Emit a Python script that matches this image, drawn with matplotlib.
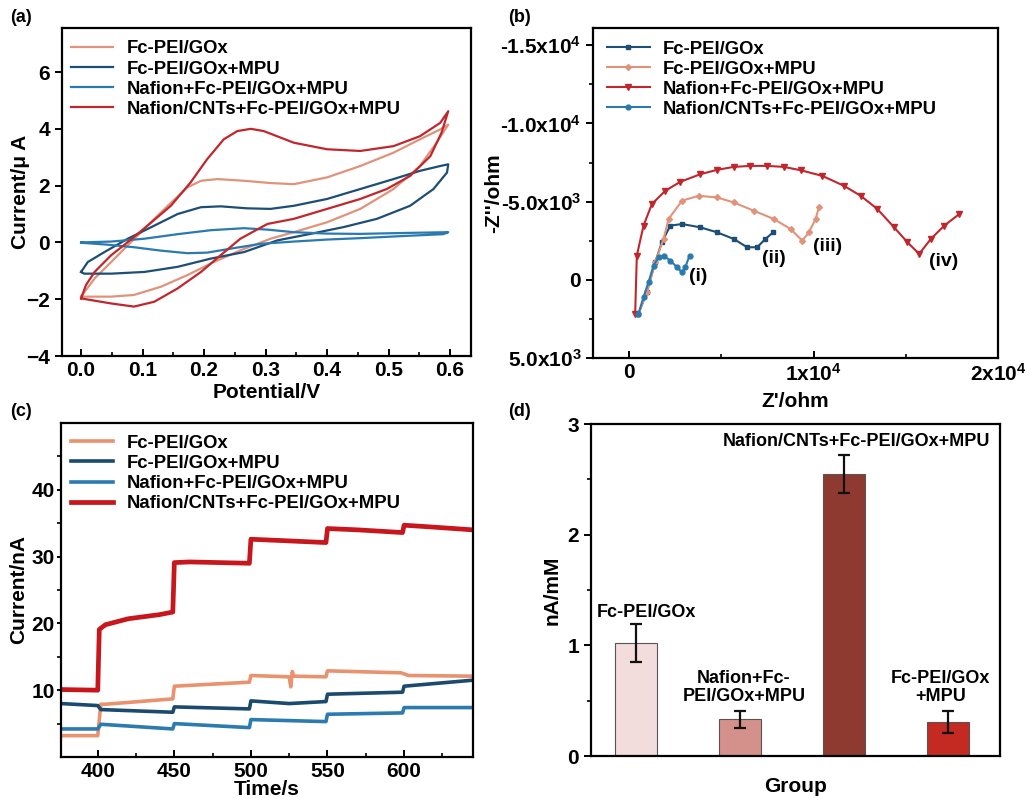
import matplotlib
matplotlib.use("Agg")
import matplotlib.pyplot as plt
from matplotlib.ticker import MultipleLocator, FixedLocator

plt.rcParams['font.family'] = ['Liberation Sans', 'DejaVu Sans']
plt.rcParams['font.weight'] = 'bold'
plt.rcParams['axes.labelweight'] = 'bold'
plt.rcParams['mathtext.default'] = 'regular'

# ---------------- colours ----------------
C_PEACH = '#e0937a'
C_DBLUE = '#1d4e75'
C_LBLUE = '#2a7ab0'
C_RED = '#c0272d'

# ---------------- (a) cyclic voltammetry ----------------
cv_labels = ['Fc-PEI/GOx', 'Fc-PEI/GOx+MPU', 'Nafion+Fc-PEI/GOx+MPU', 'Nafion/CNTs+Fc-PEI/GOx+MPU']
cv1_E = [0, 0.022, 0.049, 0.076, 0.108, 0.141, 0.173, 0.195, 0.222, 0.265, 0.308, 0.346, 0.400, 0.454, 0.508, 0.551, 0.584, 0.597,
         0.578, 0.551, 0.508, 0.454, 0.400, 0.346, 0.308, 0.259, 0.216, 0.173, 0.130, 0.086, 0.049, 0]
cv1_I = [-1.91, -1.27, -0.69, -0.10, 0.59, 1.29, 1.94, 2.17, 2.23, 2.17, 2.09, 2.05, 2.29, 2.69, 3.16, 3.63, 3.98, 4.15,
         3.51, 2.69, 1.88, 1.18, 0.71, 0.36, 0.13, -0.28, -0.69, -1.15, -1.56, -1.85, -1.91, -1.91]
cv2_E = [0, 0.011, 0.038, 0.076, 0.119, 0.157, 0.195, 0.227, 0.270, 0.308, 0.346, 0.400, 0.454, 0.508, 0.551, 0.584, 0.597,
         0.595, 0.573, 0.535, 0.481, 0.427, 0.373, 0.319, 0.265, 0.211, 0.157, 0.103, 0.049, 0.005, 0]
cv2_I = [-1.04, -0.69, -0.34, 0.13, 0.59, 1.00, 1.24, 1.27, 1.20, 1.18, 1.29, 1.53, 1.88, 2.23, 2.52, 2.69, 2.75,
         2.46, 1.88, 1.29, 0.83, 0.54, 0.30, 0.07, -0.34, -0.57, -0.86, -1.04, -1.10, -1.10, -1.04]
cv3_E = [0, 0.049, 0.103, 0.157, 0.211, 0.265, 0.303, 0.346, 0.400, 0.454, 0.519, 0.597,
         0.589, 0.519, 0.454, 0.400, 0.346, 0.292, 0.249, 0.205, 0.173, 0.130, 0.086, 0.043, 0.005, 0]
cv3_I = [0.0, 0.03, 0.13, 0.29, 0.43, 0.50, 0.45, 0.36, 0.31, 0.30, 0.33, 0.36,
         0.29, 0.22, 0.15, 0.10, 0.03, -0.05, -0.20, -0.36, -0.38, -0.29, -0.17, -0.08, -0.02, 0.0]
cv4_E = [0, 0.008, 0.022, 0.049, 0.076, 0.108, 0.146, 0.178, 0.205, 0.232, 0.254, 0.276, 0.297, 0.346, 0.400, 0.454, 0.508,
         0.551, 0.584, 0.597, 0.586, 0.568, 0.535, 0.497, 0.454, 0.400, 0.346, 0.303, 0.259, 0.227, 0.195, 0.157, 0.119,
         0.086, 0.049, 0.016, 0]
cv4_I = [-1.97, -1.50, -1.04, -0.45, 0.01, 0.59, 1.29, 2.11, 2.93, 3.63, 3.92, 4.00, 3.92, 3.51, 3.28, 3.22, 3.39,
         3.74, 4.21, 4.62, 3.86, 3.04, 2.34, 1.88, 1.53, 1.18, 0.83, 0.65, 0.13, -0.45, -1.04, -1.62, -2.09,
         -2.26, -2.15, -2.03, -1.97]

# ---------------- (b) Nyquist ----------------
eis_labels = ['Fc-PEI/GOx', 'Fc-PEI/GOx+MPU', 'Nafion+Fc-PEI/GOx+MPU', 'Nafion/CNTs+Fc-PEI/GOx+MPU']
z1_re = [507, 960, 1413, 1775, 2228, 2862, 3859, 4765, 5670, 6395, 6938, 7392, 7808]
z1_im = [2166, 786, -1125, -2399, -3461, -3567, -3355, -3036, -2612, -2081, -2081, -2612, -3036]
z2_re = [507, 960, 1413, 1866, 2138, 2862, 3768, 4765, 5670, 6757, 7845, 8750, 9385, 9747, 10109, 10290]
z2_im = [2166, 786, -1125, -2612, -3886, -5054, -5372, -5266, -4947, -4417, -3886, -3249, -2505, -3036, -3886, -4629]
z3_re = [326, 417, 779, 1232, 1957, 2772, 3859, 4765, 5670, 6576, 7482, 8388, 9294, 10471, 11648, 12555, 13461,
         14366, 15091, 15725, 16359, 17084, 17899]
z3_im = [2166, -1550, -3461, -4841, -5690, -6263, -6752, -7028, -7219, -7283, -7283, -7219, -7007, -6646, -6009,
         -5372, -4523, -3355, -2399, -1656, -2612, -3461, -4204]
z4_re = [507, 779, 1051, 1322, 1594, 1866, 2228, 2591, 2862, 3044, 3279]
z4_im = [2166, 1104, 148, -913, -1444, -1550, -1231, -807, -489, -807, -1550]
eis_tags = ['(i)', '(ii)', '(iii)', '(iv)']
tag_re = [3750, 7826, 10761, 17066]
tag_im = [-191, -1338, -2102, -1147]

# ---------------- (c) amperometric response ----------------
amp_labels = ['Fc-PEI/GOx', 'Fc-PEI/GOx+MPU', 'Nafion+Fc-PEI/GOx+MPU', 'Nafion/CNTs+Fc-PEI/GOx+MPU']
t1 = [376, 400, 402, 405, 449, 450, 499, 500, 525, 526, 527, 528, 549, 550, 598, 603, 645]
i1 = [3.2, 3.2, 7.9, 7.9, 8.7, 10.6, 11.2, 12.2, 12.0, 10.5, 12.8, 12.1, 12.0, 12.9, 12.6, 12.2, 12.1]
t2 = [376, 400, 402, 449, 450, 499, 500, 525, 549, 550, 599, 600, 645]
i2 = [8.0, 7.7, 7.1, 6.7, 7.5, 7.2, 8.4, 8.0, 8.3, 9.4, 9.7, 10.6, 11.5]
t3 = [376, 400, 402, 449, 450, 499, 500, 549, 550, 599, 600, 645]
i3 = [4.2, 4.2, 4.9, 4.2, 5.0, 4.4, 5.6, 5.3, 6.4, 6.6, 7.4, 7.4]
t4 = [376, 400, 401, 405, 420, 440, 449, 450, 460, 480, 499, 500, 520, 549, 550, 570, 599, 600, 620, 645]
i4 = [10.1, 10.0, 19.1, 19.8, 20.7, 21.3, 21.7, 29.1, 29.2, 29.1, 29.0, 32.6, 32.4, 32.1, 34.2, 34.0, 33.6, 34.7, 34.4, 34.0]

# ---------------- (d) sensitivity bars ----------------
groups = ['Fc-PEI/GOx', 'Nafion+Fc-\nPEI/GOx+MPU', 'Nafion/CNTs+Fc-PEI/GOx+MPU', 'Fc-PEI/GOx\n+MPU']
sens = [1.02, 0.33, 2.55, 0.31]
sens_err = [0.17, 0.08, 0.17, 0.10]
bar_colors = ['#f3dcdc', '#d4918b', '#8e3a31', '#c42a22']

W, H = 1025, 798
fig = plt.figure(figsize=(W / 100, H / 100), dpi=100)


def ax_px(l, r, t, b):
    return fig.add_axes([l / W, (H - b) / H, (r - l) / W, (b - t) / H])


TICK_FS = 15
LAB_FS = 15
LEG_FS = 13.3


def style(ax):
    for s in ax.spines.values():
        s.set_linewidth(1.6)
    ax.tick_params(axis='both', which='major', labelsize=TICK_FS, width=1.4, length=5)
    ax.tick_params(axis='both', which='minor', width=1.2, length=3)
    ax.tick_params(axis='x', which='both', direction='in')
    ax.tick_params(axis='y', which='both', direction='out')
    for lab in ax.get_xticklabels() + ax.get_yticklabels():
        lab.set_fontweight('bold')


def legend(ax, x, y):
    leg = ax.legend(loc='upper left', bbox_to_anchor=(x, y), frameon=False,
                    handlelength=2.3, handletextpad=0.7, labelspacing=0.17, borderpad=0, borderaxespad=0,
                    prop={'weight': 'bold', 'size': LEG_FS})
    return leg


# ===== (a) =====
ax = ax_px(62, 471, 28, 356)
for E, I, c, lab in zip([cv1_E, cv2_E, cv3_E, cv4_E], [cv1_I, cv2_I, cv3_I, cv4_I],
                        [C_PEACH, C_DBLUE, C_LBLUE, C_RED], cv_labels):
    ax.plot(E, I, color=c, lw=1.6, label=lab)
ax.set_xlim(-0.031, 0.634)
ax.set_ylim(-4, 7.55)
ax.xaxis.set_minor_locator(MultipleLocator(0.05))
ax.set_yticks([-4, -2, 0, 2, 4, 6])
ax.set_xticks([0, 0.1, 0.2, 0.3, 0.4, 0.5, 0.6])
ax.set_xticklabels(['0.0', '0.1', '0.2', '0.3', '0.4', '0.5', '0.6'])
style(ax)
ax.set_xlabel('Potential/V', fontsize=LAB_FS, fontweight='bold')
ax.set_ylabel('Current/μ A', fontsize=LAB_FS, fontweight='bold')
ax.xaxis.set_label_coords(0.5, -0.082)
ax.yaxis.set_label_coords(-0.078, 0.5)
legend(ax, 0.022, 0.962)
fig.text(10 / W, 1 - 18 / H, '(a)', fontsize=13, fontweight='bold', va='center')

# ===== (b) =====
ax = ax_px(593, 998, 28, 358)
ax.plot(z1_re, z1_im, color=C_DBLUE, lw=1.5, marker='s', ms=3.5, label=eis_labels[0])
ax.plot(z2_re, z2_im, color=C_PEACH, lw=1.5, marker='D', ms=3, label=eis_labels[1])
ax.plot(z3_re, z3_im, color=C_RED, lw=1.5, marker='v', ms=4, label=eis_labels[2])
ax.plot(z4_re, z4_im, color=C_LBLUE, lw=1.5, marker='o', ms=3.5, label=eis_labels[3])
for tg, x, y in zip(eis_tags, tag_re, tag_im):
    ax.text(x, y, tg, fontsize=14, fontweight='bold', ha='center', va='center')
ax.set_xlim(-1960, 20000)
ax.set_ylim(5000, -16100)
ax.set_xticks([0, 10000, 20000])
ax.set_xticklabels(['0', '1x10$^{4}$', '2x10$^{4}$'])
ax.xaxis.set_minor_locator(FixedLocator([5000, 15000]))
ax.set_yticks([-15000, -10000, -5000, 0, 5000])
ax.set_yticklabels(['-1.5x10$^{4}$', '-1.0x10$^{4}$', '-5.0x10$^{3}$', '0', '5.0x10$^{3}$'])
ax.yaxis.set_minor_locator(FixedLocator([-12500, -7500, -2500, 2500]))
style(ax)
ax.set_xlabel("Z'/ohm", fontsize=LAB_FS, fontweight='bold')
ax.set_ylabel("-Z''/ohm", fontsize=LAB_FS, fontweight='bold')
ax.xaxis.set_label_coords(0.5, -0.103)
ax.yaxis.set_label_coords(-0.222, 0.5)
legend(ax, 0.035, 0.962)
fig.text(508 / W, 1 - 18 / H, '(b)', fontsize=13, fontweight='bold', va='center')

# ===== (c) =====
ax = ax_px(61, 473, 423, 757)
ax.plot(t1, i1, color='#e8926f', lw=2.6, label=amp_labels[0])
ax.plot(t2, i2, color='#1b4a6e', lw=2.6, label=amp_labels[1])
ax.plot(t3, i3, color='#2b7bb0', lw=2.6, label=amp_labels[2])
ax.plot(t4, i4, color='#c8161d', lw=3.4, label=amp_labels[3])
ax.set_xlim(376, 645)
ax.set_ylim(0, 50)
ax.set_xticks([400, 450, 500, 550, 600])
ax.xaxis.set_minor_locator(FixedLocator([425, 475, 525, 575, 625]))
ax.set_yticks([10, 20, 30, 40])
ax.yaxis.set_minor_locator(FixedLocator([5, 15, 25, 35, 45]))
style(ax)
ax.tick_params(axis='y', which='major', length=3, pad=1.5)
ax.set_xlabel('Time/s', fontsize=LAB_FS, fontweight='bold')
ax.set_ylabel('Current/nA', fontsize=LAB_FS, fontweight='bold')
ax.xaxis.set_label_coords(0.5, -0.07)
ax.yaxis.set_label_coords(-0.08, 0.5)
legend(ax, 0.024, 0.965)
fig.text(10 / W, 1 - 412 / H, '(c)', fontsize=13, fontweight='bold', va='center')

# ===== (d) =====
ax = ax_px(591, 1000, 424, 756)
xs = list(range(len(sens)))
ax.bar(xs, sens, width=0.4, color=bar_colors, edgecolor='#555555', linewidth=0.8,
       yerr=sens_err, error_kw=dict(ecolor='#111111', elinewidth=1.6, capsize=4, capthick=1.6))
lab_x = [0.1, 1.04, 2.12, 2.93]
lab_y = [1.30, 0.62, 2.84, 0.62]
for g, x, y in zip(groups, lab_x, lab_y):
    ax.text(x, y, g, fontsize=13, fontweight='bold', ha='center', va='center', linespacing=1.1)
ax.set_xlim(-0.43, 3.5)
ax.set_ylim(0, 3)
ax.set_xticks([])
ax.set_yticks([0, 1, 2, 3])
ax.yaxis.set_minor_locator(MultipleLocator(0.5))
style(ax)
ax.set_xlabel('Group', fontsize=LAB_FS, fontweight='bold')
ax.set_ylabel('nA/mM', fontsize=LAB_FS, fontweight='bold')
ax.xaxis.set_label_coords(0.5, -0.063)
ax.yaxis.set_label_coords(-0.071, 0.5)
fig.text(508 / W, 1 - 412 / H, '(d)', fontsize=13, fontweight='bold', va='center')

fig.savefig('out.png', dpi=100)
